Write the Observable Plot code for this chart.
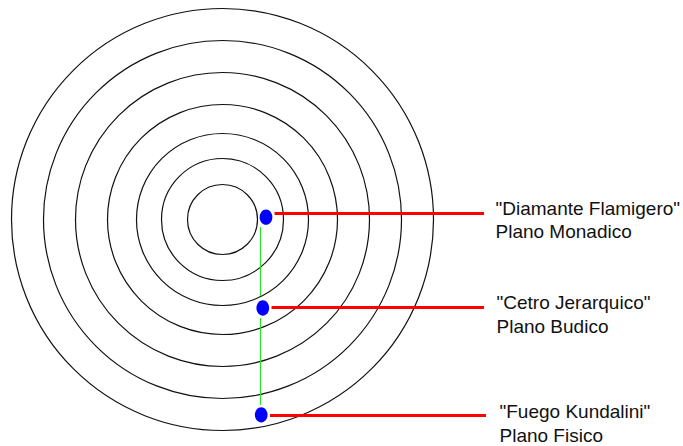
<!DOCTYPE html>
<html>
<head>
<meta charset="utf-8">
<script src="https://cdn.jsdelivr.net/npm/d3@7"></script>
<script src="https://cdn.jsdelivr.net/npm/@observablehq/plot@0.6"></script>
<style>
  html, body { margin: 0; padding: 0; background: #fff; }
</style>
</head>
<body>
<div id="chart"></div>
<script>
// Concentric planes (radii in px units of the drawing)
const ringCenterX = 222;
const ringCenterY = 219;
const ringRadii = [35, 61, 86, 115, 147, 179, 211];

// Marked points
const pointNames = ["\"Diamante Flamigero\"", "\"Cetro Jerarquico\"", "\"Fuego Kundalini\""];
const planeNames = ["Plano Monadico", "Plano Budico", "Plano Fisico"];
const pointX = [265.5, 262.3, 260.7];
const pointY = [216.7, 307.5, 414.3];

// Red leader lines
const leaderY = [213, 307, 415];
const leaderStartX = [274.5, 271.5, 270];
const leaderEndX = [484, 484, 486];

// Label positions (baseline of first line)
const labelX = [495, 496, 499];
const labelBaseline = [214, 308.5, 417.5];
const labelLineGap = 23.5;

// Green connecting axis, broken around the points
const axisX = 260;
const axisY1 = [227, 318];
const axisY2 = [296, 405];

const rings = ringRadii.map(r => ({x: ringCenterX, y: ringCenterY, r}));
const points = pointNames.map((name, i) => ({
  name, plane: planeNames[i], x: pointX[i], y: pointY[i],
  ly: leaderY[i], lx1: leaderStartX[i], lx2: leaderEndX[i],
  tx: labelX[i], tb: labelBaseline[i]
}));
const axisSegs = axisY1.map((y1, i) => ({x: axisX, y1, y2: axisY2[i]}));

const ellipseSymbol = {
  draw(ctx, size) {
    const r = Math.sqrt(size / Math.PI), rx = r * 0.87, ry = r * 1.05, k = 0.5523;
    ctx.moveTo(rx, 0);
    ctx.bezierCurveTo(rx, ry * k, rx * k, ry, 0, ry);
    ctx.bezierCurveTo(-rx * k, ry, -rx, ry * k, -rx, 0);
    ctx.bezierCurveTo(-rx, -ry * k, -rx * k, -ry, 0, -ry);
    ctx.bezierCurveTo(rx * k, -ry, rx, -ry * k, rx, 0);
    ctx.closePath();
  }
};

const fs = 19;
const chart = Plot.plot({
  width: 683,
  height: 446,
  margin: 0,
  x: {domain: [0, 683], range: [0, 683], axis: null},
  y: {domain: [0, 446], range: [0, 446], axis: null},
  r: {type: "identity"},
  style: {background: "#fff", fontFamily: "'Liberation Sans', Arial, sans-serif", fontSize: fs + "px", color: "#000"},
  marks: [
    Plot.dot(rings, {x: "x", y: "y", r: "r", stroke: "#111", strokeWidth: 1.2, fill: "none"}),
    Plot.ruleX(axisSegs, {x: "x", y1: "y1", y2: "y2", stroke: "#22e622", strokeWidth: 1}),
    Plot.ruleY(points, {y: "ly", x1: "lx1", x2: "lx2", stroke: "#ff0000", strokeWidth: 3}),
    Plot.dot(points, {x: "x", y: "y", r: 7.3, symbol: ellipseSymbol, fill: "#0000ff", stroke: "none"}),
    Plot.text(points, {x: "tx", y: d => d.tb - 0.32 * fs, text: "name", textAnchor: "start", fill: "#111", fontSize: fs}),
    Plot.text(points, {x: "tx", y: d => d.tb + labelLineGap - 0.32 * fs, text: "plane", textAnchor: "start", fill: "#111", fontSize: fs})
  ]
});
document.getElementById("chart").appendChild(chart);
</script>
</body>
</html>
